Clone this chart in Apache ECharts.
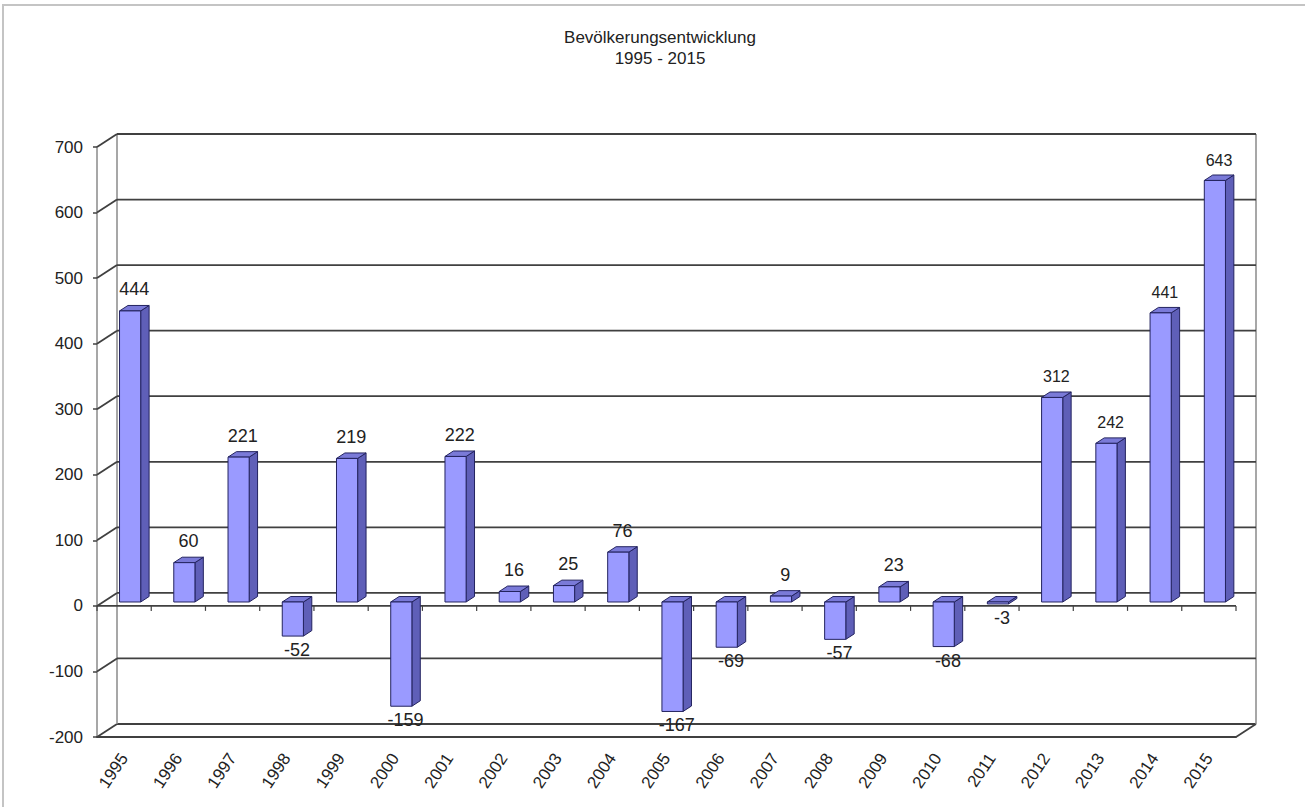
<!DOCTYPE html>
<html>
<head>
<meta charset="utf-8">
<title>Bevölkerungsentwicklung 1995 - 2015</title>
<script src="https://cdn.jsdelivr.net/npm/echarts@6/dist/echarts.min.js"></script>
<style>
  html, body { margin: 0; padding: 0; background: #ffffff; }
  #chart { width: 1305px; height: 807px; }
</style>
</head>
<body>
<div id="chart"></div>
<script>
// Yearly population change
const years = ['1995', '1996', '1997', '1998', '1999', '2000', '2001', '2002', '2003', '2004',
               '2005', '2006', '2007', '2008', '2009', '2010', '2011', '2012', '2013', '2014', '2015'];
const changes = [444, 60, 221, -52, 219, -159, 222, 16, 25, 76,
                 -167, -69, 9, -57, 23, -68, -3, 312, 242, 441, 643];
const yTicks = [-200, -100, 0, 100, 200, 300, 400, 500, 600, 700];

// Pseudo-3D projection: how far the back wall sits right/up of the front plane
const DEPTH_X = 20;
const DEPTH_Y = -13;
// Bars occupy this slice of the depth (0 = front plane, 1 = back wall)
const BAR_FRONT = 0.3;
const BAR_BACK = 0.72;
const BAR_WIDTH_RATIO = 0.39;

const FONT = '"Liberation Sans", Arial, sans-serif';
const GRID_COLOR = '#404040';
const EDGE_COLOR = '#8a8a8a';
const GRID_WIDTH = 1.8;

const chart = echarts.init(document.getElementById('chart'), null, { renderer: 'svg' });

function line(x1, y1, x2, y2, stroke, width) {
  return {
    type: 'line',
    shape: { x1, y1, x2, y2 },
    style: { stroke, lineWidth: width || GRID_WIDTH }
  };
}

// Walls, gridlines and floor of the 3D frame (one item per value tick)
function renderFrame(params, api) {
  const cs = params.coordSys;
  const v = api.value(1);
  const y = api.coord([0, v])[1];
  const x0 = cs.x;
  const x1 = cs.x + cs.width;
  const children = [];

  // back-wall gridline and its diagonal on the side wall
  children.push(line(x0, y, x0 + DEPTH_X, y + DEPTH_Y, GRID_COLOR));
  children.push(line(x0 + DEPTH_X, y + DEPTH_Y, x1 + DEPTH_X, y + DEPTH_Y, GRID_COLOR));

  if (v === yTicks[0]) {
    // bottom front edge closes to the back wall on the right
    children.push(line(x1, y, x1 + DEPTH_X, y + DEPTH_Y, GRID_COLOR));
    // vertical edges of the back wall
    const yTop = api.coord([0, yTicks[yTicks.length - 1]])[1];
    children.push(line(x0 + DEPTH_X, yTop + DEPTH_Y, x0 + DEPTH_X, y + DEPTH_Y, EDGE_COLOR, 1.5));
    children.push(line(x1 + DEPTH_X, yTop + DEPTH_Y, x1 + DEPTH_X, y + DEPTH_Y, EDGE_COLOR, 1.5));
  }

  if (v === 0) {
    // front edge of the floor with the category tick marks
    children.push(line(x0, y, x1, y, GRID_COLOR));
    const n = years.length;
    for (let k = 0; k <= n; k++) {
      const x = x0 + k * cs.width / n;
      children.push(line(x, y, x, y + 5, GRID_COLOR, 1.2));
    }
  }

  return { type: 'group', children };
}

// One 3D column: front, side and top face plus its value label
function renderColumn(params, api) {
  const i = api.value(0);
  const v = api.value(1);
  const base = api.coord([i, 0]);
  const tip = api.coord([i, v]);
  const catW = api.size([1, 0])[0];
  const w = catW * BAR_WIDTH_RATIO;

  const ox = BAR_FRONT * DEPTH_X;
  const oy = BAR_FRONT * DEPTH_Y;
  const sx = (BAR_BACK - BAR_FRONT) * DEPTH_X;
  const sy = (BAR_BACK - BAR_FRONT) * DEPTH_Y;

  const left = base[0] - w / 2 + ox;
  const right = left + w;
  const top = Math.min(base[1], tip[1]) + oy;
  const bottom = Math.max(base[1], tip[1]) + oy;

  const edge = '#23235f';
  const faces = [
    {
      type: 'polygon',
      shape: { points: [[right, top], [right + sx, top + sy], [right + sx, bottom + sy], [right, bottom]] },
      style: { fill: '#5f5fb8', stroke: edge, lineWidth: 1 }
    },
    {
      type: 'polygon',
      shape: { points: [[left, top], [right, top], [right + sx, top + sy], [left + sx, top + sy]] },
      style: { fill: '#7a7ad8', stroke: edge, lineWidth: 1 }
    },
    {
      type: 'rect',
      shape: { x: left, y: top, width: w, height: bottom - top },
      style: { fill: '#9a9aff', stroke: edge, lineWidth: 1 }
    }
  ];

  const cx = left + w / 2 + sx / 2;
  const size = i >= 17 ? 16 : 18;
  const label = v >= 0
    ? { x: cx, y: top + sy - 7, verticalAlign: 'bottom' }
    : { x: cx, y: bottom + 5, verticalAlign: 'top' };

  faces.push({
    type: 'text',
    style: {
      text: String(v),
      x: label.x,
      y: label.y,
      align: 'center',
      verticalAlign: label.verticalAlign,
      fontSize: size,
      fontFamily: FONT,
      fill: '#222222'
    }
  });

  return { type: 'group', children: faces };
}

chart.setOption({
  animation: false,
  backgroundColor: '#ffffff',
  graphic: [
    {
      type: 'rect',
      shape: { x: 3, y: 5, width: 1310, height: 820 },
      style: { fill: 'none', stroke: '#c4c4c4', lineWidth: 2 },
      silent: true
    },
    {
      type: 'text',
      x: 660, y: 37,
      style: {
        text: 'Bevölkerungsentwicklung',
        align: 'center', verticalAlign: 'middle',
        fontSize: 17, fontFamily: FONT, fill: '#222222'
      }
    },
    {
      type: 'text',
      x: 660, y: 58,
      style: {
        text: '1995 - 2015',
        align: 'center', verticalAlign: 'middle',
        fontSize: 17, fontFamily: FONT, fill: '#222222'
      }
    }
  ],
  grid: { left: 97, top: 147, right: 69, bottom: 70, containLabel: false },
  xAxis: {
    type: 'category',
    data: years,
    boundaryGap: true,
    axisLine: { show: true, onZero: false, lineStyle: { color: GRID_COLOR, width: GRID_WIDTH } },
    axisTick: { show: false },
    axisLabel: {
      interval: 0,
      rotate: 56,
      margin: 18,
      fontSize: 17,
      fontFamily: FONT,
      color: '#222222'
    },
    splitLine: { show: false }
  },
  yAxis: {
    type: 'value',
    min: -200,
    max: 700,
    interval: 100,
    axisLine: { show: true, lineStyle: { color: EDGE_COLOR, width: 1.5 } },
    axisTick: { show: true, length: 4, lineStyle: { color: GRID_COLOR, width: 1.5 } },
    axisLabel: {
      margin: 14,
      fontSize: 17,
      fontFamily: FONT,
      color: '#222222',
      formatter: (val) => (yTicks.includes(val) ? String(val) : '')
    },
    splitLine: { show: false }
  },
  series: [
    {
      name: 'frame',
      type: 'custom',
      silent: true,
      z: 1,
      data: yTicks.map((v) => [0, v]),
      renderItem: renderFrame
    },
    {
      name: 'Bevölkerungsentwicklung',
      type: 'custom',
      z: 2,
      data: changes.map((v, i) => [i, v]),
      renderItem: renderColumn
    }
  ]
});
</script>
</body>
</html>
